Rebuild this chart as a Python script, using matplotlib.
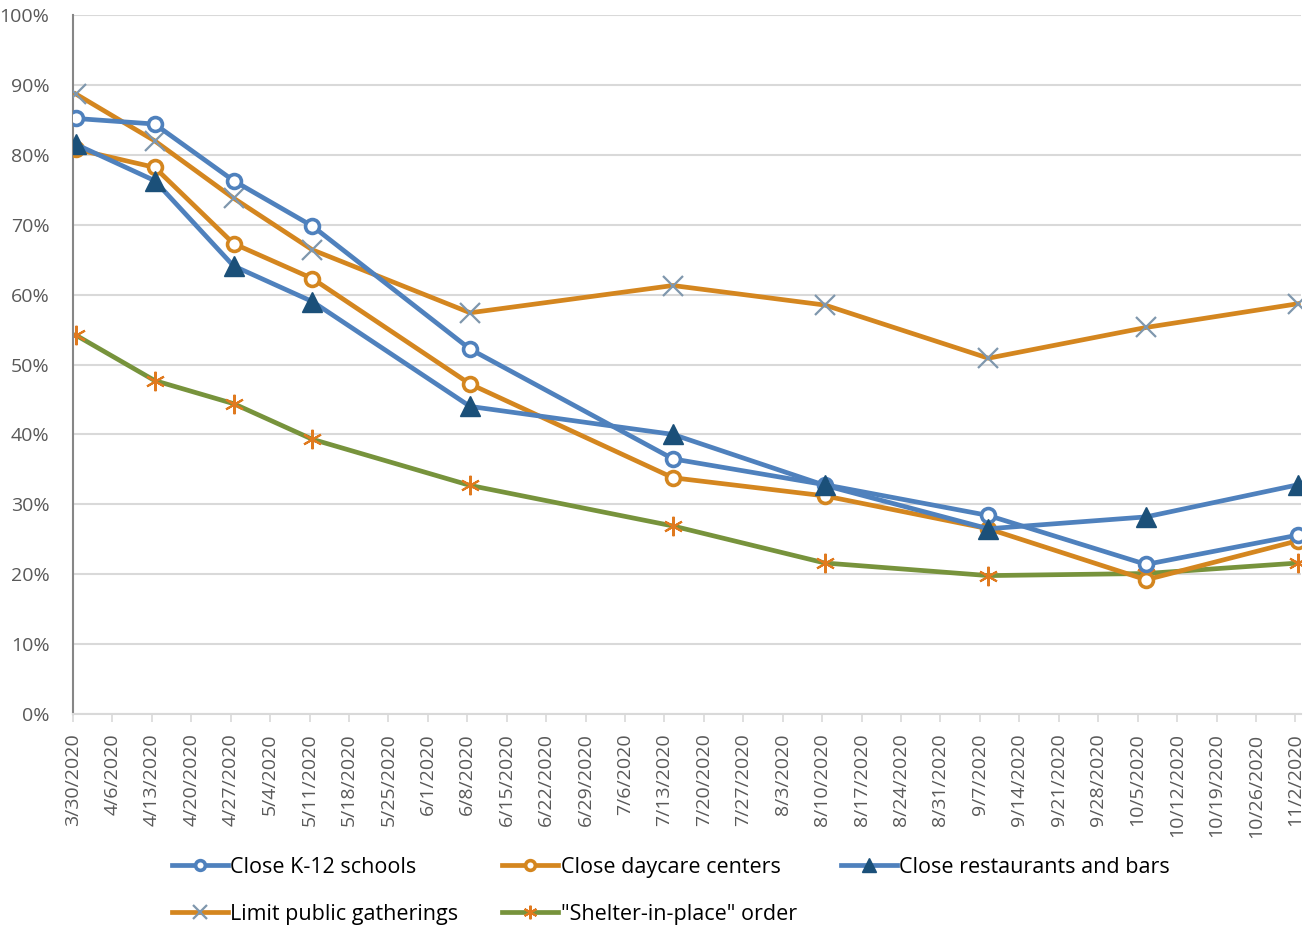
import pandas as pd
import matplotlib
matplotlib.use("Agg")
import matplotlib.pyplot as plt
from matplotlib.ticker import PercentFormatter

plt.rcParams['font.family'] = ['Open Sans', 'DejaVu Sans']

# survey dates and share of respondents (%)
dates = pd.to_datetime(["2020-03-30 12:00", "2020-04-13 12:00", "2020-04-27 12:00", "2020-05-11 12:00",
                        "2020-06-08 12:00", "2020-07-14 12:00", "2020-08-10 12:00", "2020-09-08 12:00",
                        "2020-10-06 12:00", "2020-11-02 12:00"])
k12 = [85.2, 84.4, 76.3, 69.8, 52.2, 36.5, 32.8, 28.4, 21.4, 25.6]
daycare = [80.8, 78.2, 67.3, 62.3, 47.2, 33.8, 31.2, 26.5, 19.2, 24.8]
restaurants = [81.5, 76.3, 64.1, 59.0, 44.0, 40.0, 32.7, 26.5, 28.2, 32.8]
gatherings = [88.7, 82.0, 73.8, 66.4, 57.4, 61.3, 58.5, 50.9, 55.3, 58.7]
shelter = [54.2, 47.7, 44.4, 39.3, 32.7, 26.9, 21.6, 19.8, 20.1, 21.6]

blue = "#4f81bd"
orange = "#d4861f"
navy = "#1b5079"
green = "#77933c"

fig = plt.figure(figsize=(13.12, 9.26), dpi=100)
ax = fig.add_axes([73/1312, 1 - 714/926, (1301-73)/1312, (714-15)/926])

lw = 3.4
h_k12, = ax.plot(dates, k12, color=blue, lw=lw, marker="o", ms=10, mfc="white", mec=blue, mew=2.6,
                 label="Close K-12 schools", zorder=5)
h_day, = ax.plot(dates, daycare, color=orange, lw=lw, marker="o", ms=10, mfc="white", mec=orange, mew=2.6,
                 label="Close daycare centers", zorder=4)
h_rest, = ax.plot(dates, restaurants, color=blue, lw=lw, marker="^", ms=14, mfc=navy, mec=navy,
                  label="Close restaurants and bars", zorder=6)
h_gath, = ax.plot(dates, gatherings, color=orange, lw=lw, marker="x", ms=14, mec="#7f97ad", mew=1.6,
                  label="Limit public gatherings", zorder=3)
h_shel, = ax.plot(dates, shelter, color=green, lw=lw, marker=(6, 2, 0), ms=14, mec="#e07a1f", mew=1.5,
                  label='"Shelter-in-place" order', zorder=2)

ax.set_ylim(0, 100)
ax.yaxis.set_major_locator(plt.MultipleLocator(10))
ax.yaxis.set_major_formatter(PercentFormatter(decimals=0))
ax.grid(axis="y", color="#d9d9d9", lw=1.5)
ax.set_axisbelow(True)

ticks = pd.date_range("2020-03-30", "2020-11-02", freq="7D")
ax.set_xticks(ticks)
ax.set_xticklabels([f"{d.month}/{d.day}/{d.year}" for d in ticks], rotation=90)
ax.set_xlim(pd.Timestamp("2020-03-30"), pd.Timestamp("2020-11-03"))

for s in ["top", "right"]:
    ax.spines[s].set_visible(False)
ax.spines["left"].set_color("#868686")
ax.spines["left"].set_linewidth(1.5)
ax.spines["bottom"].set_color("#d9d9d9")
ax.spines["bottom"].set_linewidth(1.5)
ax.tick_params(axis="y", length=0, pad=17, labelsize=14, labelcolor="#595959")
ax.tick_params(axis="x", length=6, width=1.2, color="#d9d9d9", pad=8, labelsize=14, labelcolor="#595959")

handles = [h_k12, h_gath, h_day, h_shel, h_rest]
fig.legend(handles=handles, labels=[h.get_label() for h in handles], ncol=3,
           loc="upper left", bbox_to_anchor=(172/1312, 1 - 857/926), frameon=False, fontsize=15.5,
           handlelength=2.6, handletextpad=0.1, columnspacing=2.05, labelspacing=1.2,
           borderpad=0, borderaxespad=0, markerscale=0.7)

fig.savefig("out.png", dpi=100)
